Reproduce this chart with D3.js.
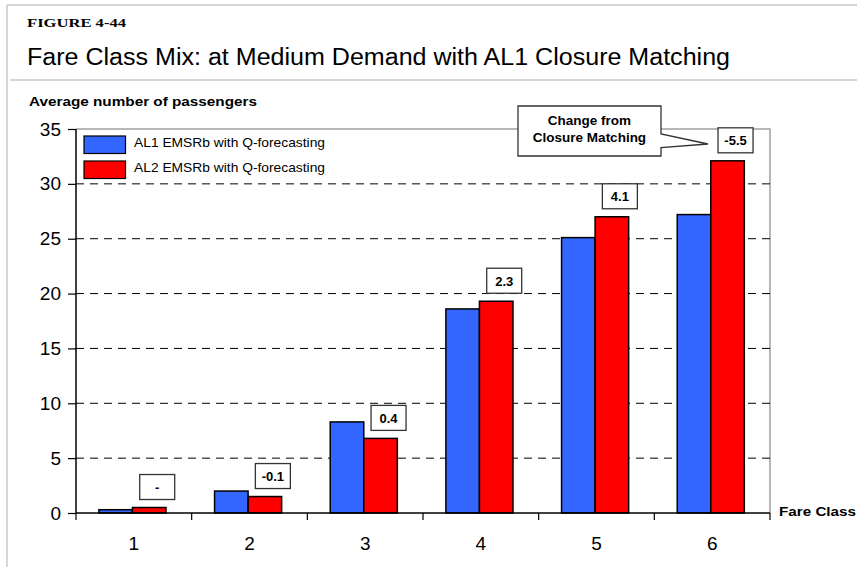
<!DOCTYPE html>
<html>
<head>
<meta charset="utf-8">
<script src="https://cdn.jsdelivr.net/npm/d3@7/dist/d3.min.js"></script>
<style>
  html, body { margin: 0; padding: 0; background: #fff; }
  svg { display: block; }
  text { font-family: "Liberation Sans", Arial, sans-serif; fill: #000; }
</style>
</head>
<body>
<svg id="chart" width="857" height="567"></svg>
<script>
// Fare classes on the x axis
const fareClasses = ["1", "2", "3", "4", "5", "6"];
// Average passengers per fare class
const al1Values = [0.3, 2.0, 8.3, 18.6, 25.1, 27.2];
const al2Values = [0.5, 1.5, 6.8, 19.3, 27.0, 32.1];
// Change from closure matching, boxed above each class
const changeLabels = ["-", "-0.1", "0.4", "2.3", "4.1", "-5.5"];
const seriesNames = ["AL1 EMSRb with Q-forecasting", "AL2 EMSRb with Q-forecasting"];
const seriesColors = ["#3366ff", "#ff0000"];
const yTicks = [0, 5, 10, 15, 20, 25, 30, 35];

const svg = d3.select("#chart");
const W = 857, H = 567;

// Page frame
svg.append("line").attr("x1", 7).attr("x2", W).attr("y1", 5).attr("y2", 5)
  .attr("stroke", "#c8c8c8").attr("stroke-width", 1.5);
svg.append("line").attr("x1", 7).attr("x2", 7).attr("y1", 5).attr("y2", H)
  .attr("stroke", "#c8c8c8").attr("stroke-width", 1.5);
svg.append("line").attr("x1", 10).attr("x2", W).attr("y1", 80).attr("y2", 80)
  .attr("stroke", "#c8c8c8").attr("stroke-width", 1.5);

// Headings
svg.append("text").attr("x", 27).attr("y", 27)
  .style("font-family", "'Liberation Serif', 'Times New Roman', serif")
  .style("font-weight", "bold").style("font-size", "13.5px")
  .attr("textLength", 99).attr("lengthAdjust", "spacingAndGlyphs")
  .text("FIGURE 4-44");
svg.append("text").attr("x", 27).attr("y", 65)
  .style("font-size", "23px")
  .attr("textLength", 703).attr("lengthAdjust", "spacingAndGlyphs")
  .text("Fare Class Mix: at Medium Demand with AL1 Closure Matching");
svg.append("text").attr("x", 29).attr("y", 106)
  .style("font-size", "13px").style("font-weight", "bold")
  .attr("textLength", 228).attr("lengthAdjust", "spacingAndGlyphs")
  .text("Average number of passengers");

// Plot area
const plot = { left: 76, right: 770, top: 129, bottom: 513 };

const x = d3.scaleBand().domain(fareClasses).range([plot.left, plot.right]).padding(0);
const bw = x.bandwidth();
const groupW = bw * 0.58;
const xs = d3.scaleBand().domain([0, 1]).range([0, groupW]);
const groupOffset = (bw - groupW) / 2 - 1.4;

const y = d3.scaleLinear().domain([0, 35]).range([plot.bottom, plot.top]);

// Plot border (top and right)
svg.append("path")
  .attr("d", `M${plot.left},${plot.top}H${plot.right}V${plot.bottom}`)
  .attr("fill", "none").attr("stroke", "#a0a0a0").attr("stroke-width", 1.5);

// Dashed gridlines
svg.append("g").selectAll("line")
  .data(yTicks.filter(t => t > 0 && t < 35))
  .join("line")
  .attr("x1", plot.left).attr("x2", plot.right)
  .attr("y1", d => y(d)).attr("y2", d => y(d))
  .attr("stroke", "#000").attr("stroke-width", 1)
  .attr("stroke-dasharray", "8,6");

// Bars
const rows = fareClasses.map((c, i) => ({ c, i, vals: [al1Values[i], al2Values[i]] }));
const groups = svg.append("g").selectAll("g")
  .data(rows).join("g")
  .attr("transform", d => `translate(${x(d.c) + groupOffset},0)`);
groups.selectAll("rect")
  .data(d => d.vals.map((v, s) => ({ v, s })))
  .join("rect")
  .attr("x", d => xs(d.s))
  .attr("width", xs.bandwidth())
  .attr("y", d => y(d.v))
  .attr("height", d => y(0) - y(d.v))
  .attr("fill", d => seriesColors[d.s])
  .attr("stroke", "#000").attr("stroke-width", 1.5);

// Y axis
const yAxis = d3.axisLeft(y).tickValues(yTicks).tickSize(8).tickPadding(7);
const gy = svg.append("g").attr("transform", `translate(${plot.left},0)`).call(yAxis);
gy.select(".domain").attr("stroke", "#000").attr("stroke-width", 1.5)
  .attr("d", `M0,${plot.top}V${plot.bottom}`);
gy.selectAll(".tick line").attr("stroke", "#000").attr("stroke-width", 1.2);
gy.selectAll(".tick text")
  .style("font-family", "'Liberation Sans', Arial, sans-serif")
  .style("font-size", "19px").attr("fill", "#000");

// X axis with ticks on band boundaries
const gx = svg.append("g").attr("transform", `translate(0,${plot.bottom})`);
gx.append("line").attr("x1", plot.left).attr("x2", plot.right)
  .attr("stroke", "#000").attr("stroke-width", 1.5);
const boundaries = fareClasses.map(c => x(c)).concat([x(fareClasses[fareClasses.length - 1]) + bw]);
gx.selectAll("line.tk").data(boundaries).join("line").attr("class", "tk")
  .attr("x1", d => d).attr("x2", d => d).attr("y1", 0).attr("y2", 7)
  .attr("stroke", "#000").attr("stroke-width", 1.2);
gx.selectAll("text.cat").data(fareClasses).join("text").attr("class", "cat")
  .attr("x", d => x(d) + bw / 2).attr("y", 37)
  .attr("text-anchor", "middle").style("font-size", "19px")
  .text(d => d);

svg.append("text").attr("x", 779).attr("y", 516)
  .style("font-size", "13.5px").style("font-weight", "bold")
  .attr("textLength", 77).attr("lengthAdjust", "spacingAndGlyphs")
  .text("Fare Class");

// Change labels above AL2 bars
const boxW = 35, boxH = 25;
const labels = svg.append("g").selectAll("g")
  .data(rows).join("g")
  .attr("transform", d => {
    const cx = x(d.c) + groupOffset + xs(1) + xs.bandwidth() / 2 + 8;
    const bottom = y(al2Values[d.i]) - 8;
    return `translate(${cx},${bottom})`;
  });
labels.append("rect")
  .attr("x", -boxW / 2).attr("y", -boxH).attr("width", boxW).attr("height", boxH)
  .attr("fill", "#fff").attr("stroke", "#333").attr("stroke-width", 1.3);
labels.append("text")
  .attr("x", 0).attr("y", -boxH / 2 + 5)
  .attr("text-anchor", "middle")
  .style("font-size", "13px").style("font-weight", "bold")
  .text(d => changeLabels[d.i]);

// Callout explaining the boxed numbers
const cl = { x0: 518, y0: 106, x1: 661, y1: 156 };
const tip = [708, 144];
svg.append("path")
  .attr("d", `M${cl.x0},${cl.y0}H${cl.x1}V134L${tip[0]},${tip[1]}L${cl.x1},147.5V${cl.y1}H${cl.x0}Z`)
  .attr("fill", "#fff").attr("stroke", "#333").attr("stroke-width", 1.3);
svg.append("text").attr("x", (cl.x0 + cl.x1) / 2).attr("y", 125)
  .attr("text-anchor", "middle").style("font-size", "13.5px").style("font-weight", "bold")
  .text("Change from");
svg.append("text").attr("x", (cl.x0 + cl.x1) / 2).attr("y", 142)
  .attr("text-anchor", "middle").style("font-size", "13.5px").style("font-weight", "bold")
  .text("Closure Matching");

// Legend
const legend = svg.append("g").selectAll("g")
  .data(seriesNames).join("g")
  .attr("transform", (d, i) => `translate(84,${136 + i * 25})`);
legend.append("rect").attr("width", 41.5).attr("height", 17.5)
  .attr("fill", (d, i) => seriesColors[i]).attr("stroke", "#000").attr("stroke-width", 1.2);
legend.append("text").attr("x", 50).attr("y", 11)
  .style("font-size", "13px")
  .attr("textLength", 191).attr("lengthAdjust", "spacingAndGlyphs")
  .text(d => d);
</script>
</body>
</html>
